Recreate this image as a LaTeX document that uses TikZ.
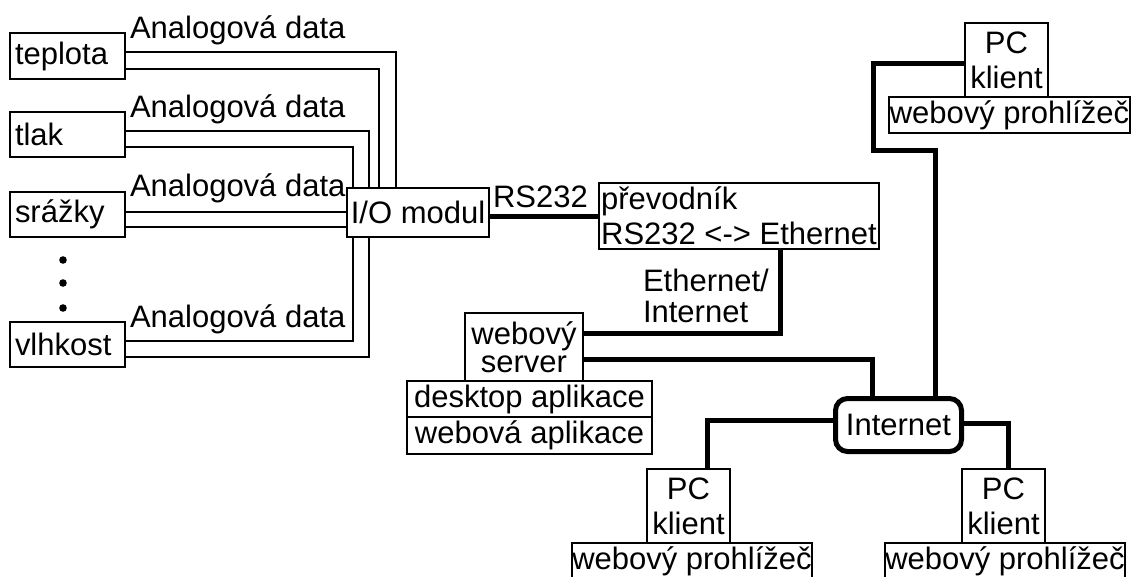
\documentclass[tikz,border=0pt]{standalone}
\usepackage{fontspec}
\setmainfont{Liberation Sans}
\begin{document}
\begin{tikzpicture}[x=1pt,y=-1pt,
  every node/.style={font=\fontsize{31}{35}\selectfont, inner sep=0pt, outer sep=0pt},
  frame/.style={draw=black, line width=1.5pt, fill=white, anchor=north west},
  sensor/.style={frame, minimum height=45pt, text width=105pt, inner xsep=5pt, align=left},
  pcbox/.style={frame, minimum width=83pt, minimum height=74pt, align=center},
  browser/.style={frame, minimum width=240pt, minimum height=36pt},
  appbox/.style={frame, minimum width=245pt, minimum height=36pt},
  wire/.style={line width=1.3pt},
  net/.style={line width=5pt},
  caption/.style={anchor=base west}
]
\fill[white] (0,0) rectangle (1133,576);
\useasboundingbox (0,0) rectangle (1133,576);

% sensors
\node[sensor, minimum height=46pt] (tep) at (10,33) {teplota};
\node[sensor] (tlak) at (10,112) {tlak};
\node[sensor] (sra) at (10,192) {srážky};
\node[sensor] (vlh) at (10,322) {vlhkost};
\fill (63,260) circle (3.8) (63,283) circle (3.8) (63,308) circle (3.8);

% signal labels
\node[caption] (a1) at ([xshift=5pt,yshift=-5pt]tep.north east) {Analogová data};
\node[caption] (a2) at ([xshift=5pt,yshift=-5pt]tlak.north east) {Analogová data};
\node[caption] (a3) at ([xshift=5pt,yshift=-4pt]sra.north east) {Analogová data};
\node[caption] (a4) at ([xshift=5pt,yshift=-5pt]vlh.north east) {Analogová data};

% I/O module and converter
\node[frame, minimum width=142pt, minimum height=49pt] (io) at (347,188) {I/O modul};
\node[frame, minimum width=280pt, minimum height=66pt, align=left] (conv) at (599,183) {převodník\\RS232 <-> Ethernet};
\node[caption] (rs) at ([xshift=4pt,yshift=-19pt]io.north east) {RS232};
\node[anchor=north west, align=left, font=\fontsize{31}{31}\selectfont] (eth) at (643,269) {Ethernet/\\Internet};

% server stack
\node[frame, minimum width=118pt, minimum height=68pt, align=center, font=\fontsize{31}{28}\selectfont] (srv) at (465,313) {webový\\server};
\node[appbox] (desk) at (407,381) {desktop aplikace};
\node[appbox, minimum height=37pt] (webapp) at (407,417) {webová aplikace};

% internet cloud
\node[draw, line width=5pt, rounded corners=12pt, fill=white, minimum width=126pt, minimum height=53pt] (inet) at (898.5,425) {Internet};

% clients
\node[pcbox] (pct) at (965,23) {PC\\klient};
\node[browser, minimum width=241pt] (brt) at (889,97) {webový prohlížeč};
\node[pcbox] (pcl) at (647,469) {PC\\klient};
\node[browser] (brl) at (572,543) {webový prohlížeč};
\node[pcbox] (pcr) at (962,469) {PC\\klient};
\node[browser] (brr) at (885,543) {webový prohlížeč};

% analog wires
\draw[wire] ([yshift=4pt]tep.east) -| ([xshift=-22pt]io.north);
\draw[wire] ([yshift=-13pt]tep.east) -| ([xshift=-39pt]io.north);
\draw[wire] ([yshift=3.5pt]tlak.east) -| ([xshift=-49pt]io.north);
\draw[wire] ([yshift=-12.5pt]tlak.east) -| ([xshift=-65pt]io.north);
\coordinate (s1) at ([yshift=2.5pt]sra.east);
\coordinate (s2) at ([yshift=-12.5pt]sra.east);
\draw[wire] (s1) -- (s1 -| io.west);
\draw[wire] (s2) -- (s2 -| io.west);
\draw[wire] ([yshift=3.5pt]vlh.east) -| ([xshift=-65pt]io.south);
\draw[wire] ([yshift=-12.5pt]vlh.east) -| ([xshift=-49pt]io.south);

% network links
\draw[net] (io.east |- conv.west) -- (conv.west);
\draw[net] ([xshift=181pt]conv.south west) |- ([yshift=14pt]srv.east);
\draw[net] ([yshift=-12pt]srv.east) -| ([xshift=-26.5pt]inet.north);
\draw[net] ([xshift=37pt]inet.north) -- ++(0,-248) -- ++(-62,0) |- ([yshift=-3pt]pct.west);
\draw[net] ([yshift=5pt]inet.west) -| ([xshift=18.5pt]pcl.north);
\draw[net] ([yshift=2pt]inet.east) -| ([xshift=5pt]pcr.north);
\end{tikzpicture}
\end{document}
